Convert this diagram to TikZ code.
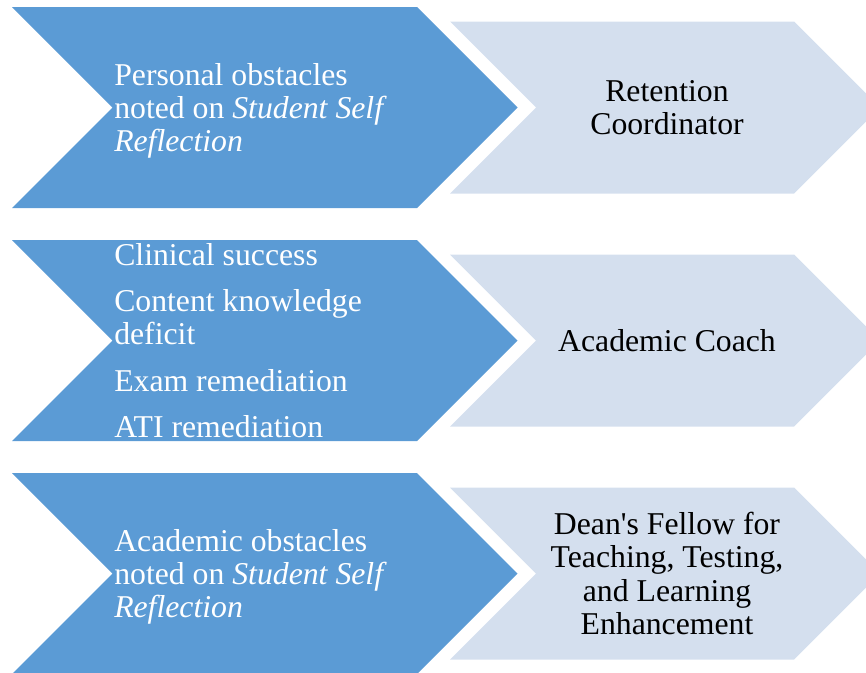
\documentclass[tikz,border=0pt]{standalone}
\usepackage{fontspec}
\setmainfont{Liberation Serif}

\definecolor{causeblue}{HTML}{5B9BD5}
\definecolor{roleblue}{HTML}{D4DFEE}

\tikzset{
  cause/.style={text=white, anchor=west, align=left, inner sep=0pt,
                font=\fontsize{23.8}{24.8}\selectfont},
  role/.style={text=black, align=center, inner sep=0pt,
               font=\fontsize{23.8}{24.8}\selectfont},
}

\begin{document}
\begin{tikzpicture}[x=0.75pt,y=-0.75pt]
                  \def\w{866} \def\h{672}
                  \def\dy{233}
                  \clip (0,0) rectangle (\w,\h);

                  % one pair of chevrons per row
                  \foreach \r in {0,1,2}{
                          \pgfmathsetmacro{\yc}{107.5+\r*\dy}
                          \fill[causeblue] (12,\yc-100.5) -- (417,\yc-100.5) -- (517.5,\yc)
                               -- (417,\yc+100.5) -- (12,\yc+100.5) -- (112.5,\yc) -- cycle;
                          \fill[roleblue] (450,\yc-86) -- (794,\yc-86) -- (880,\yc)
                               -- (794,\yc+86) -- (450,\yc+86) -- (536,\yc) -- cycle;
                      }

                  % what is noted, and who takes it up
                  \node[cause] (personal) at (114,110.5)
                  {Personal obstacles\\noted on \textit{Student Self}\\\textit{Reflection}};
                  \node[role] (retention) at (667,107.5) {Retention\\Coordinator};

                  \node[cause] (remediation) at (114,340.5)
                  {Clinical success\\[10pt]Content knowledge\\deficit\\[10pt]Exam remediation\\[10pt]ATI remediation};
                  \node[role] (coach) at (667,340.5) {Academic Coach};

                  \node[cause] (academic) at (114,576.5)
                  {Academic obstacles\\noted on \textit{Student Self}\\\textit{Reflection}};
                  \node[role] (fellow) at (667,573.5)
                  {Dean\textquotesingle s Fellow for\\Teaching, Testing,\\and Learning\\Enhancement};
              \end{tikzpicture}
\end{document}
